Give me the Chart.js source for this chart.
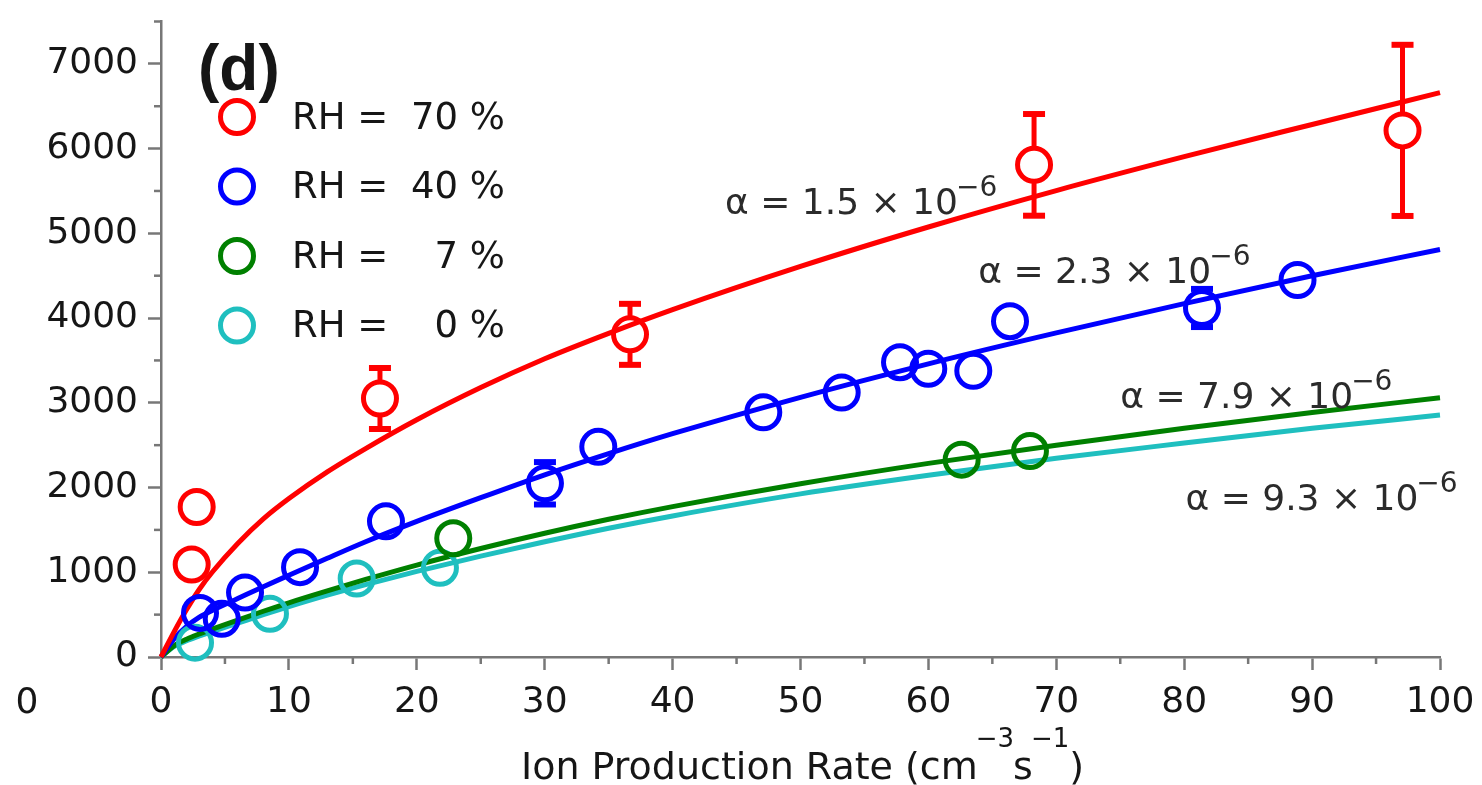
<!DOCTYPE html>
<html>
<head>
<meta charset="utf-8">
<title>Ion concentration vs ion production rate</title>
<script src="https://cdn.jsdelivr.net/npm/chart.js@4.4.1/dist/chart.umd.min.js"></script>
<style>
  html, body { margin: 0; padding: 0; background: #ffffff; }
  canvas { display: block; }
</style>
</head>
<body>
<canvas id="chart" width="1482" height="785"></canvas>
<script>
// ---------------- data ----------------
const X_TICKS = [0, 10, 20, 30, 40, 50, 60, 70, 80, 90, 100];
const X_MINOR = [5, 15, 25, 35, 45, 55, 65, 75, 85, 95];
const Y_TICKS = [0, 1000, 2000, 3000, 4000, 5000, 6000, 7000];
const Y_MINOR = [500, 1500, 2500, 3500, 4500, 5500, 6500, 7500];

const SERIES_LABELS = ['RH = 70 %', 'RH = 40 %', 'RH =  7 %', 'RH =  0 %'];

// measured ion concentrations (cm^-3) vs ion production rate (cm^-3 s^-1)
const RH70_X   = [2.40, 2.79, 17.12, 36.67, 68.26, 97.07];
const RH70_Y   = [1091, 1770, 3051, 3808, 5808, 6215];
const RH70_ERR = [0, 0, 360, 360, 600, 1010];

const RH40_X   = [3.05, 4.75, 6.57, 10.87, 17.59, 30.02, 34.19, 47.09, 53.22, 57.78, 59.99, 63.51, 66.38, 81.39, 88.86];
const RH40_Y   = [520, 450, 760, 1060, 1601, 2050, 2480, 2888, 3121, 3479, 3401, 3377, 3963, 4119, 4449];
const RH40_ERR = [0, 0, 0, 0, 0, 250, 0, 0, 0, 0, 0, 0, 0, 225, 0];

const RH7_X = [22.85, 62.60, 67.94];
const RH7_Y = [1401, 2329, 2430];

const RH0_X = [2.66, 8.52, 15.30, 21.81];
const RH0_Y = [169, 509, 926, 1052];

// fitted recombination curves, sampled along the production-rate axis
const FIT_X    = [0, 1, 2, 3, 4, 6, 8, 10, 13, 16, 20, 25, 30, 35, 40, 50, 60, 70, 80, 90, 100];
const FIT70_Y  = [0, 290, 560, 800, 1000, 1340, 1630, 1870, 2185, 2460, 2800, 3180, 3520, 3820, 4100, 4610, 5075, 5505, 5905, 6285, 6660];
const FIT40_Y  = [0, 210, 360, 470, 550, 690, 830, 965, 1165, 1360, 1600, 1880, 2150, 2400, 2635, 3065, 3460, 3825, 4170, 4500, 4810];
const FIT7_Y   = [0, 130, 210, 272, 328, 435, 540, 640, 780, 915, 1085, 1280, 1460, 1625, 1775, 2045, 2285, 2500, 2700, 2885, 3060];
const FIT0_Y   = [0, 122, 192, 248, 300, 400, 500, 595, 730, 855, 1010, 1190, 1360, 1520, 1665, 1925, 2145, 2345, 2525, 2700, 2855];

const FIT_TEXT = ['\u03B1 = 1.5 \u00D7 10', '\u03B1 = 2.3 \u00D7 10', '\u03B1 = 7.9 \u00D7 10', '\u03B1 = 9.3 \u00D7 10'];
const FIT_EXP  = '\u22126';

// ---------------- styling / placement ----------------
const COLORS = ['#ff0000', '#0000ff', '#008000', '#1fbfbf'];
const AXIS_COLOR = '#777777';
const TEXT_COLOR = '#161616';
const FONT = 'DejaVu Sans';
const TICK_SIZE = 36;
const MARK_R = 16.5;
const MARK_W = 5;

// annotation anchors (left edge, text baseline) in data units
const NOTE_AT = [
  { x: 44.1, y: 5230 },
  { x: 63.9, y: 4414 },
  { x: 75.0, y: 2935 },
  { x: 80.1, y: 1735 }
];

const toPoints = (xs, ys) => xs.map((x, i) => ({ x: x, y: ys[i] }));

function markerSet(label, xs, ys, errs, color) {
  return {
    label: label,
    data: toPoints(xs, ys),
    errors: errs,
    showLine: false,
    pointStyle: 'circle',
    pointRadius: MARK_R,
    pointHoverRadius: MARK_R,
    borderWidth: MARK_W,
    pointBorderWidth: MARK_W,
    pointBackgroundColor: 'rgba(0,0,0,0)',
    pointBorderColor: color,
    borderColor: color,
    backgroundColor: 'rgba(0,0,0,0)',
    clip: false,
    isMarker: true
  };
}

function fitSet(label, ys, color) {
  return {
    label: label,
    data: toPoints(FIT_X, ys),
    showLine: true,
    pointRadius: 0,
    pointHoverRadius: 0,
    borderColor: color,
    borderWidth: 5,
    cubicInterpolationMode: 'monotone',
    fill: false,
    clip: false
  };
}

const datasets = [
  markerSet(SERIES_LABELS[0], RH70_X, RH70_Y, RH70_ERR, COLORS[0]),
  markerSet(SERIES_LABELS[1], RH40_X, RH40_Y, RH40_ERR, COLORS[1]),
  markerSet(SERIES_LABELS[2], RH7_X, RH7_Y, null, COLORS[2]),
  markerSet(SERIES_LABELS[3], RH0_X, RH0_Y, null, COLORS[3]),
  fitSet('fit 70', FIT70_Y, COLORS[0]),
  fitSet('fit 40', FIT40_Y, COLORS[1]),
  fitSet('fit 7', FIT7_Y, COLORS[2]),
  fitSet('fit 0', FIT0_Y, COLORS[3])
];

function line(ctx, x1, y1, x2, y2) {
  ctx.beginPath();
  ctx.moveTo(x1, y1);
  ctx.lineTo(x2, y2);
  ctx.stroke();
}

// error bars: vertical whiskers with caps, leaving the hollow marker clear
const errorBars = {
  id: 'errorBars',
  afterDatasetsDraw(chart) {
    const { ctx, scales: { x, y } } = chart;
    const outer = MARK_R + MARK_W / 2 - 1;
    chart.data.datasets.forEach((ds) => {
      if (!ds.errors) return;
      ctx.save();
      ctx.strokeStyle = ds.borderColor;
      ds.data.forEach((p, j) => {
        const e = ds.errors[j];
        if (!e) return;
        const px = x.getPixelForValue(p.x);
        const py = y.getPixelForValue(p.y);
        const top = y.getPixelForValue(p.y + e);
        const bot = y.getPixelForValue(p.y - e);
        ctx.lineWidth = 5;
        if (top < py - outer) line(ctx, px, top, px, py - outer);
        if (bot > py + outer) line(ctx, px, py + outer, px, bot);
        ctx.lineWidth = 6;
        line(ctx, px - 11, top, px + 11, top);
        line(ctx, px - 11, bot, px + 11, bot);
      });
      ctx.restore();
    });
  }
};

// short minor tick marks on both axes
const minorTicks = {
  id: 'minorTicks',
  afterDraw(chart) {
    const { ctx, scales: { x, y }, chartArea } = chart;
    ctx.save();
    ctx.strokeStyle = AXIS_COLOR;
    ctx.lineWidth = 2.5;
    Y_MINOR.forEach((v) => {
      const py = y.getPixelForValue(v);
      line(ctx, chartArea.left - 7, py, chartArea.left, py);
    });
    X_MINOR.forEach((v) => {
      const px = x.getPixelForValue(v);
      line(ctx, px, chartArea.bottom, px, chartArea.bottom + 7);
    });
    ctx.restore();
  }
};

function drawRuns(ctx, runs, x, baseline) {
  let cx = x;
  runs.forEach((r) => {
    ctx.font = `${r.size}px "${FONT}"`;
    ctx.fillText(r.t, cx, baseline - (r.rise || 0));
    cx += ctx.measureText(r.t).width + (r.gap || 0);
  });
  return cx - x;
}

function runsWidth(ctx, runs) {
  let w = 0;
  runs.forEach((r) => {
    ctx.font = `${r.size}px "${FONT}"`;
    w += ctx.measureText(r.t).width + (r.gap || 0);
  });
  return w;
}

// legend, panel tag, fit annotations and axis title
const decorations = {
  id: 'decorations',
  afterDraw(chart) {
    const { ctx, scales: { x, y }, chartArea } = chart;
    ctx.save();
    ctx.fillStyle = TEXT_COLOR;
    ctx.textBaseline = 'alphabetic';

    // panel tag
    ctx.font = 'bold 64px "Liberation Sans"';
    ctx.textAlign = 'left';
    ctx.fillText('(d)', 198, 90);

    // legend
    const markers = chart.data.datasets.filter((d) => d.isMarker);
    markers.forEach((ds, i) => {
      const cy = 117 + i * 69.5;
      ctx.beginPath();
      ctx.arc(237, cy, MARK_R, 0, Math.PI * 2);
      ctx.strokeStyle = ds.borderColor;
      ctx.lineWidth = MARK_W;
      ctx.stroke();
      const parts = ds.label.split('=');
      ctx.fillStyle = TEXT_COLOR;
      ctx.font = `37px "${FONT}"`;
      ctx.textBaseline = 'middle';
      ctx.textAlign = 'left';
      ctx.fillText(parts[0].trim() + ' =', 292, cy + 2);
      ctx.textAlign = 'right';
      ctx.fillText(parts[1].trim(), 505, cy + 2);
    });

    // fit annotations
    ctx.textBaseline = 'alphabetic';
    ctx.textAlign = 'left';
    ctx.fillStyle = '#2b2b2b';
    FIT_TEXT.forEach((t, i) => {
      const px = x.getPixelForValue(NOTE_AT[i].x);
      const py = y.getPixelForValue(NOTE_AT[i].y);
      drawRuns(ctx, [
        { t: t, size: 36, gap: -2 },
        { t: FIT_EXP, size: 28, rise: 18 }
      ], px, py);
    });

    // x-axis title
    ctx.fillStyle = TEXT_COLOR;
    const runs = [
      { t: 'Ion Production Rate (cm', size: 38, gap: -2 },
      { t: '\u22123', size: 26, rise: 32, gap: -1 },
      { t: 's', size: 38, gap: -2 },
      { t: '\u22121', size: 26, rise: 32, gap: 0 },
      { t: ')', size: 38 }
    ];
    const w = runsWidth(ctx, runs);
    const cx = (chartArea.left + chartArea.right) / 2 + 2;
    drawRuns(ctx, runs, cx - w / 2, 779);

    // stray zero at the far left of the tick row
    ctx.font = `${TICK_SIZE}px "${FONT}"`;
    ctx.textAlign = 'center';
    ctx.textBaseline = 'middle';
    ctx.fillText('0', 27, 704);
    ctx.restore();
  }
};

const tickFont = { family: FONT, size: TICK_SIZE };

new Chart(document.getElementById('chart'), {
  type: 'scatter',
  data: { datasets: datasets },
  options: {
    responsive: false,
    animation: false,
    events: [],
    layout: { padding: { left: 0, right: 42, top: 13, bottom: 0 } },
    plugins: {
      legend: { display: false },
      tooltip: { enabled: false },
      title: { display: false }
    },
    scales: {
      x: {
        type: 'linear',
        position: 'bottom',
        min: 0,
        max: 100,
        afterBuildTicks: (s) => { s.ticks = X_TICKS.map((v) => ({ value: v })); },
        afterFit: (s) => { s.paddingLeft = 0; s.paddingRight = 0; s.height = 128; },
        grid: { display: true, drawOnChartArea: false, drawTicks: true, tickLength: 13, tickColor: AXIS_COLOR, tickWidth: 2.5 },
        border: { display: true, color: AXIS_COLOR, width: 2.5 },
        ticks: { font: tickFont, color: TEXT_COLOR, padding: 11, maxRotation: 0, autoSkip: false, callback: (v) => String(v) }
      },
      y: {
        type: 'linear',
        position: 'left',
        min: 0,
        max: 7500,
        afterBuildTicks: (s) => { s.ticks = Y_TICKS.map((v) => ({ value: v })); },
        afterFit: (s) => { s.paddingTop = 0; s.paddingBottom = 0; s.width = 161; },
        grid: { display: true, drawOnChartArea: false, drawTicks: true, tickLength: 13, tickColor: AXIS_COLOR, tickWidth: 2.5 },
        border: { display: true, color: AXIS_COLOR, width: 2.5 },
        ticks: { font: tickFont, color: TEXT_COLOR, padding: 10, autoSkip: false, callback: (v) => String(v) }
      }
    }
  },
  plugins: [errorBars, minorTicks, decorations]
});
</script>
</body>
</html>
